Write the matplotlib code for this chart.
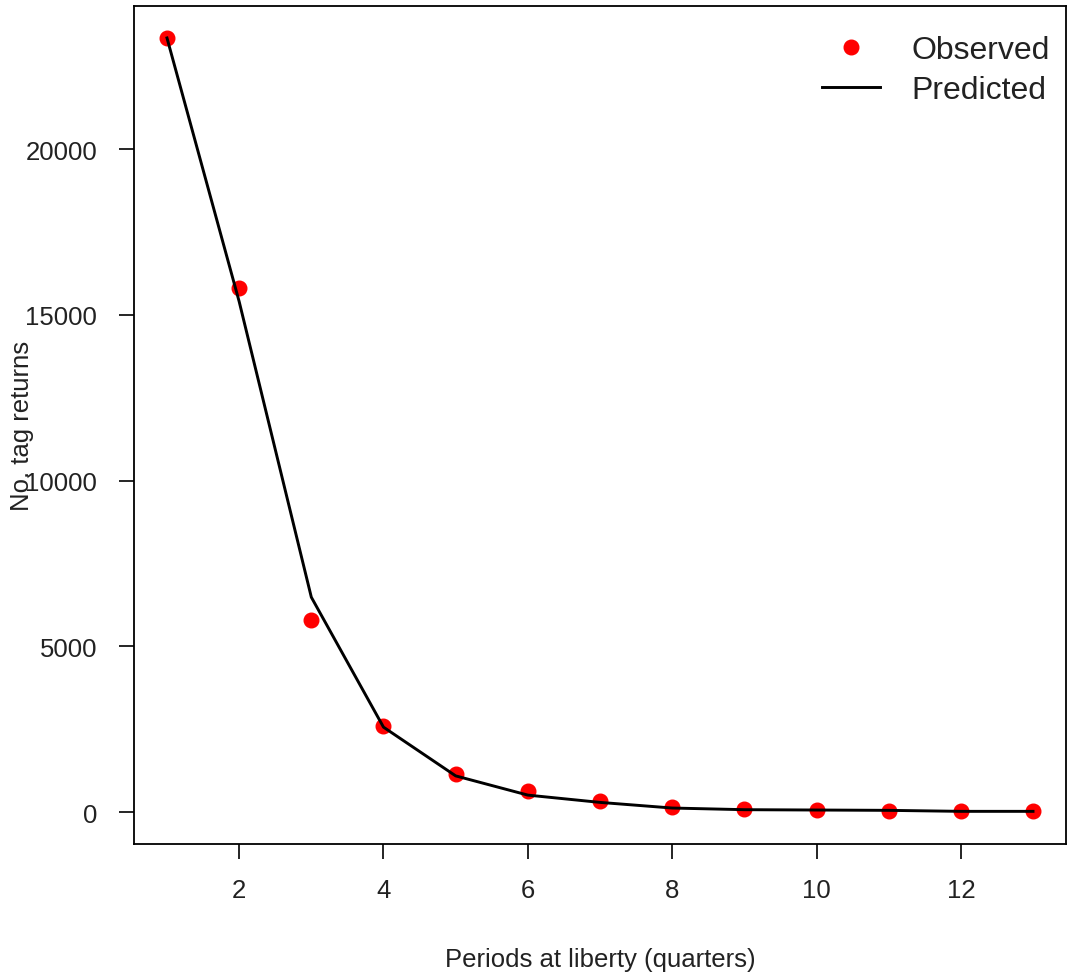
import matplotlib
matplotlib.use("Agg")
import matplotlib.pyplot as plt
from matplotlib.lines import Line2D

plt.rcParams['font.family'] = ['Liberation Sans', 'DejaVu Sans']

periods = [1, 2, 3, 4, 5, 6, 7, 8, 9, 10, 11, 12, 13]
observed = [23350, 15800, 5800, 2600, 1150, 630, 330, 150, 90, 50, 40, 30, 20]
predicted = [23350, 15400, 6480, 2560, 1090, 510, 290, 120, 70, 60, 50, 20, 20]

xticks = [2, 4, 6, 8, 10, 12]
yticks = [0, 5000, 10000, 15000, 20000]

fig = plt.figure(figsize=(10.68, 9.79), dpi=100)
ax = fig.add_axes([134 / 1068, 1 - 845 / 979, (1066 - 134) / 1068, (845 - 7) / 979])

ax.plot(periods, observed, 'o', color='red', markersize=10.5, zorder=2)
ax.plot(periods, predicted, '-', color='black', linewidth=2.1, zorder=3)

ax.set_xlim(0.543, 13.457)
ax.set_ylim(-965, 24314)
ax.set_xticks(xticks)
ax.set_yticks(yticks)
ax.tick_params(direction='out', length=10.5, width=1.2, labelsize=18.5, pad=14,
               labelcolor='#222222')
ax.tick_params(axis='y', pad=16)
for s in ax.spines.values():
    s.set_linewidth(1.3)

ax.set_xlabel('Periods at liberty (quarters)', fontsize=18.5, color='#222222')
ax.xaxis.set_label_coords(0.5, -0.123)
ax.set_ylabel('No. tag returns', fontsize=18.5, color='#222222')
ax.yaxis.set_label_coords(-0.107, 0.5)

handles = [
    Line2D([], [], marker='o', color='red', linestyle='none', markersize=10.5),
    Line2D([], [], color='black', linewidth=2.1),
]
ax.legend(handles, ['Observed', 'Predicted'], loc='upper right', frameon=False,
          fontsize=23, handlelength=1.8, handletextpad=1.0, labelspacing=0.32,
          borderaxespad=0, bbox_to_anchor=(1 - 3 / 932, 1 - 16 / 838),
          labelcolor='#222222')

fig.savefig('out.png', dpi=100)
